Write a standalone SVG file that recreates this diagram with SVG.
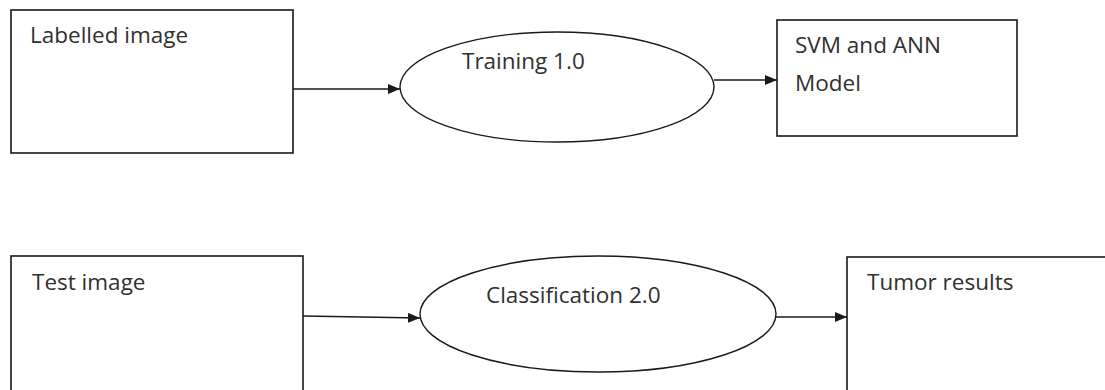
<svg xmlns="http://www.w3.org/2000/svg" width="1105" height="390" viewBox="0 0 1105 390">
  <style>
    .box { fill: #ffffff; stroke: #1a1a1a; stroke-width: 1.6; }
    .proc { fill: #ffffff; stroke: #1a1a1a; stroke-width: 1.4; }
    .label { font-family: "Open Sans", "Liberation Sans", sans-serif; font-size: 22.5px; fill: #303030; }
    .flow { stroke: #1a1a1a; stroke-width: 1.5; fill: none; marker-end: url(#head); }
  </style>
  <defs>
    <marker id="head" viewBox="0 0 12 10" refX="12" refY="5" markerWidth="12" markerHeight="10" markerUnits="userSpaceOnUse" orient="auto">
      <path d="M0,0 L12,5 L0,10 z" fill="#1a1a1a"/>
    </marker>
  </defs>
  <rect width="1105" height="390" fill="#ffffff"/>

  <!-- training row -->
  <g id="labelled-image">
    <rect class="box" x="11" y="10" width="282" height="143"/>
    <text class="label" x="30" y="43">Labelled image</text>
  </g>
  <g id="training">
    <ellipse class="proc" cx="557" cy="87" rx="157" ry="55"/>
    <text class="label" x="462" y="69">Training 1.0</text>
  </g>
  <g id="model">
    <rect class="box" x="777" y="20" width="240" height="116"/>
    <text class="label" x="795" y="53">SVM and ANN</text>
    <text class="label" x="795" y="91">Model</text>
  </g>

  <!-- classification row -->
  <g id="test-image">
    <rect class="box" x="11" y="256" width="292" height="150"/>
    <text class="label" x="32" y="290">Test image</text>
  </g>
  <g id="classification">
    <ellipse class="proc" cx="598" cy="314" rx="178" ry="58"/>
    <text class="label" x="486" y="303">Classification 2.0</text>
  </g>
  <g id="tumor-results">
    <rect class="box" x="847" y="257" width="280" height="150"/>
    <text class="label" x="867" y="290">Tumor results</text>
  </g>

  <g id="connectors">
    <line class="flow" x1="293" y1="89" x2="400" y2="89"/>
    <line class="flow" x1="714" y1="80" x2="777" y2="80"/>
    <line class="flow" x1="303" y1="316" x2="420" y2="318"/>
    <line class="flow" x1="776" y1="317" x2="847" y2="317"/>
  </g>
</svg>
